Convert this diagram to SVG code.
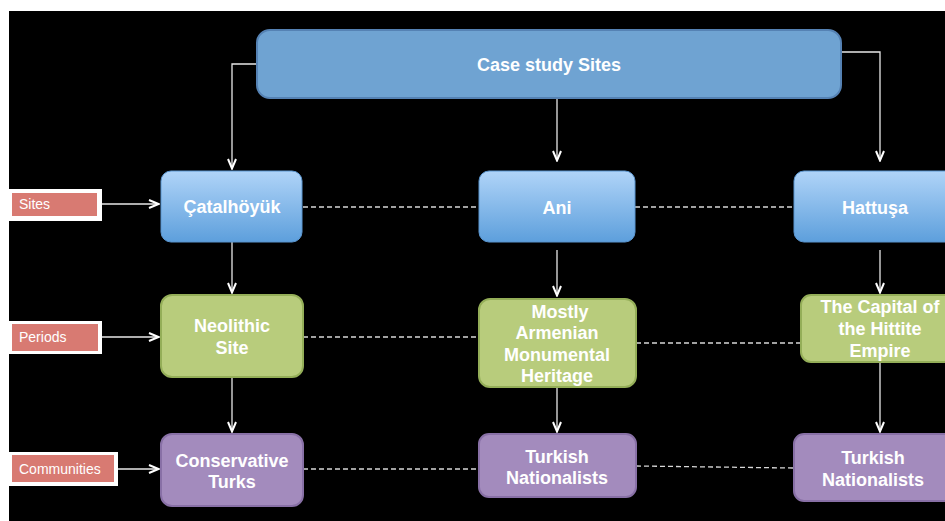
<svg xmlns="http://www.w3.org/2000/svg" width="945" height="521" viewBox="0 0 945 521">
<defs>
<linearGradient id="blueG" x1="0" y1="0" x2="0" y2="1">
<stop offset="0" stop-color="#b0d4f8"/>
<stop offset="1" stop-color="#5d9fdc"/>
</linearGradient>
<marker id="arr" viewBox="0 0 12 10" refX="11" refY="5" markerWidth="12" markerHeight="10" markerUnits="userSpaceOnUse" orient="auto">
<path d="M1,1 L10.5,5 L1,9" fill="none" stroke="#ffffff" stroke-width="2"/>
</marker>
<style>
.top{fill:#6fa3d2;stroke:#5582b4;stroke-width:2}
.blue{fill:url(#blueG);stroke:#5a95cf;stroke-width:1}
.green{fill:#b8cc7c;stroke:#94ae58;stroke-width:2}
.purple{fill:#a38bbd;stroke:#8870a6;stroke-width:2}
.t{font-family:"Liberation Sans",Arial,sans-serif;font-weight:bold;font-size:18px;fill:#ffffff;text-anchor:middle}
.lbl{font-family:"Liberation Sans",Arial,sans-serif;font-size:14px;fill:#ffffff}
.lblbox{fill:#ffffff}
.lblred{fill:#d87a72}
.conn{stroke:#e8e8e8;stroke-width:1.3;fill:none}
.arrow{marker-end:url(#arr)}
.dash{stroke:#d8d8d8;stroke-width:1.3;stroke-dasharray:5,3;fill:none}
</style>
</defs>
<rect x="0" y="0" width="945" height="521" fill="#ffffff"/>
<rect x="9" y="11" width="936" height="510" fill="#000000"/>

<g id="connectors">
<polyline class="conn arrow" points="258,64 232,64 232,169"/>
<polyline class="conn arrow" points="840,52 880,52 880,161"/>
<line class="conn arrow" x1="557" y1="99" x2="557" y2="161"/>
<line class="conn arrow" x1="101" y1="204" x2="159" y2="204"/>
<line class="conn arrow" x1="102" y1="337" x2="159" y2="337"/>
<line class="conn arrow" x1="118" y1="469" x2="159" y2="469"/>
<line class="conn arrow" x1="232" y1="242" x2="232" y2="293"/>
<line class="conn arrow" x1="232" y1="377" x2="232" y2="432"/>
<line class="conn arrow" x1="557" y1="250" x2="557" y2="296"/>
<line class="conn arrow" x1="557" y1="388" x2="557" y2="432"/>
<line class="conn arrow" x1="880" y1="250" x2="880" y2="293"/>
<line class="conn arrow" x1="880" y1="358" x2="880" y2="432"/>
<line class="dash" x1="303" y1="207" x2="479" y2="207"/>
<line class="dash" x1="635" y1="207" x2="794" y2="207"/>
<line class="dash" x1="303" y1="337" x2="478" y2="337"/>
<line class="dash" x1="636" y1="343" x2="801" y2="343"/>
<line class="dash" x1="303" y1="469" x2="478" y2="469"/>
<line class="dash" x1="636" y1="466" x2="793" y2="468"/>
</g>

<g id="label-sites">
<rect class="lblbox" x="9" y="189" width="93" height="32"/>
<rect class="lblred" x="12" y="193" width="85" height="23"/>
<text class="lbl" x="19" y="209">Sites</text>
</g>
<g id="label-periods">
<rect class="lblbox" x="9" y="321" width="93" height="33"/>
<rect class="lblred" x="12" y="324" width="86" height="27"/>
<text class="lbl" x="19" y="342">Periods</text>
</g>
<g id="label-communities">
<rect class="lblbox" x="9" y="452" width="109" height="34"/>
<rect class="lblred" x="12" y="455" width="102" height="27"/>
<text class="lbl" x="19" y="474">Communities</text>
</g>

<g id="case-study-sites">
<rect class="top" x="257" y="30" width="584" height="68" rx="13"/>
<text class="t" x="549" y="71">Case study Sites</text>
</g>

<g id="catalhoyuk">
<rect class="blue" x="161" y="171" width="141" height="71" rx="10"/>
<text class="t" x="232" y="213">Çatalhöyük</text>
</g>
<g id="ani">
<rect class="blue" x="479" y="171" width="156" height="71" rx="10"/>
<text class="t" x="557" y="214">Ani</text>
</g>
<g id="hattusa">
<rect class="blue" x="794" y="171" width="170" height="71" rx="10"/>
<text class="t" x="875" y="214">Hattuşa</text>
</g>

<g id="neolithic">
<rect class="green" x="161" y="295" width="142" height="82" rx="11"/>
<text class="t" x="232" y="332">Neolithic</text>
<text class="t" x="232" y="354">Site</text>
</g>
<g id="armenian">
<rect class="green" x="479" y="299" width="157" height="88" rx="11"/>
<text class="t" x="560" y="318">Mostly</text>
<text class="t" x="557" y="339">Armenian</text>
<text class="t" x="557" y="361">Monumental</text>
<text class="t" x="557" y="382">Heritage</text>
</g>
<g id="hittite">
<rect class="green" x="801" y="295" width="160" height="67" rx="10"/>
<text class="t" x="880" y="313">The Capital of</text>
<text class="t" x="880" y="335">the Hittite</text>
<text class="t" x="880" y="357">Empire</text>
</g>

<g id="conservative-turks">
<rect class="purple" x="161" y="434" width="142" height="72" rx="11"/>
<text class="t" x="232" y="467">Conservative</text>
<text class="t" x="232" y="488">Turks</text>
</g>
<g id="turkish-nationalists-1">
<rect class="purple" x="479" y="434" width="157" height="63" rx="10"/>
<text class="t" x="557" y="463">Turkish</text>
<text class="t" x="557" y="484">Nationalists</text>
</g>
<g id="turkish-nationalists-2">
<rect class="purple" x="794" y="434" width="170" height="67" rx="10"/>
<text class="t" x="873" y="464">Turkish</text>
<text class="t" x="873" y="486">Nationalists</text>
</g>
</svg>
